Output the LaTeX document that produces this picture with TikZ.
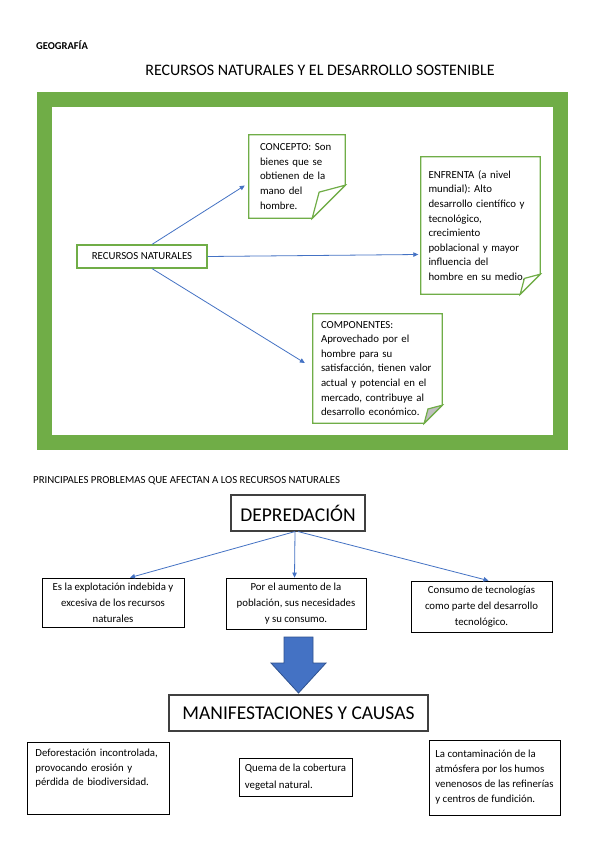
\documentclass[tikz,border=0pt]{standalone}
\usepackage{fontspec}
\setmainfont{Carlito}
\usepackage{tikz}
\usetikzlibrary{arrows.meta}
\frenchspacing
\hyphenpenalty=10000

\definecolor{verde}{HTML}{70AD47}
\definecolor{azul}{HTML}{4472C4}
\definecolor{azuloscuro}{HTML}{2F528F}

% contorno de nota con esquina doblada: [relleno]{nodo}{tamano}
\newcommand{\doblez}[3][white]{%
  \draw[bordenota] (#2.north west) -- (#2.north east) -- ([yshift=#3]#2.south east)
    -- ([xshift=-#3]#2.south east) -- (#2.south west) -- cycle;
  \draw[bordenota, fill=#1] ([xshift=-#3]#2.south east)
    -- ([xshift=-0.79*#3, yshift=0.79*#3]#2.south east) -- ([yshift=#3]#2.south east) -- cycle;}

\begin{document}
\begin{tikzpicture}[
x=1pt, y=-1pt,
nota/.style={inner ysep=0pt, align=left, font=\fontsize{10.8}{14.6}\selectfont},
bordenota/.style={draw=verde, line width=1.2pt, line join=miter},
caja/.style={draw=black, line width=0.8pt, inner sep=0pt, align=center, font=\fontsize{10.8}{16.2}\selectfont},
cajatexto/.style={draw=black, line width=0.8pt, inner ysep=0pt, align=left},
titulo/.style={draw=black!75, line width=1.1pt, inner sep=0pt, font=\fontsize{19.5}{22}\selectfont},
flecha/.style={-{Triangle[length=5pt,width=4.5pt]}, azul, line width=0.8pt}
]
\fill[white] (0,0) rectangle (599,848);
\useasboundingbox (0,0) rectangle (599,848);

% encabezado
\node[anchor=west, inner sep=0pt, font=\bfseries\fontsize{10.5}{12}\selectfont] (geo) at (36,45) {GEOGRAFÍA};
\node[inner sep=0pt, font=\fontsize{16}{19}\selectfont] (titulo) at (320,70) {RECURSOS NATURALES Y EL DESARROLLO SOSTENIBLE};

% marco verde
\draw[verde, line width=15pt] (44.5,99.5) rectangle (560.5,442.5);

\node[draw=verde, line width=1.2pt, minimum width=130pt, minimum height=23pt, inner sep=0pt,
  font=\fontsize{10.8}{13}\selectfont] (recursos) at (142,256.5) {RECURSOS NATURALES};
\node[nota, text width=74pt, inner xsep=11pt, minimum width=96pt, minimum height=83pt] (concepto) at (297,176.5)
  {CONCEPTO: Son\\bienes que se\\obtienen de la\\mano del\\hombre.};
\node[nota, text width=104pt, inner xsep=7.5pt, minimum width=119pt, minimum height=137pt] (enfrenta) at (480.5,225.5)
  {ENFRENTA (a nivel\\mundial): Alto\\desarrollo científico y\\tecnológico,\\crecimiento\\poblacional y mayor\\influencia del\\hombre en su medio.};
\node[nota, text width=113pt, inner xsep=8pt, minimum width=129pt, minimum height=109pt] (componentes) at (377.5,368.5)
  {COMPONENTES:\\Aprovechado por el\\hombre para su\\satisfacción, tienen valor\\actual y potencial en el\\mercado, contribuye al\\desarrollo económico.};
\doblez{concepto}{33pt}
\doblez{enfrenta}{20pt}
\doblez[black!25]{componentes}{18pt}

\draw[flecha] ([xshift=10pt]recursos.north) -- ([xshift=-4pt,yshift=-9pt]concepto.west);
\draw[flecha] (recursos.east) -- ([xshift=-2.5pt,yshift=-29pt]enfrenta.west);
\draw[flecha] ([xshift=10pt]recursos.south) -- ([xshift=-8pt,yshift=5.5pt]componentes.west);

% problemas
\node[anchor=west, inner sep=0pt, font=\fontsize{10.8}{13}\selectfont] (problemas) at (33,481)
  {PRINCIPALES PROBLEMAS QUE AFECTAN A LOS RECURSOS NATURALES};
\node[titulo, minimum width=134pt, minimum height=36pt] (depredacion) at (298,513) {DEPREDACIÓN};
\node[caja, minimum width=142pt, minimum height=49pt] (explotacion) at (113,602.5)
  {Es la explotación indebida y\\excesiva de los recursos\\naturales};
\node[caja, minimum width=140pt, minimum height=51pt] (poblacion) at (296,603.5)
  {Por el aumento de la\\población, sus necesidades\\y su consumo.};
\node[caja, minimum width=141pt, minimum height=51pt] (tecnologia) at (481.5,606.5)
  {Consumo de tecnologías\\como parte del desarrollo\\tecnológico.};

\draw[flecha] ([xshift=-3pt]depredacion.south) -- ([xshift=17pt]explotacion.north);
\draw[flecha] ([xshift=-3pt]depredacion.south) -- ([xshift=-1.5pt]poblacion.north);
\draw[flecha] (depredacion.south) -- ([xshift=7pt]tecnologia.north);

% flecha grande
\draw[fill=azul, draw=azuloscuro, line width=0.8pt] (284,637) -- (313,637) -- (313,663) -- (326,663)
  -- (298.5,693) -- (271,663) -- (284,663) -- cycle;

\node[titulo, minimum width=259pt, minimum height=36pt] (manifestaciones) at (298.5,713) {MANIFESTACIONES Y CAUSAS};
\node[cajatexto, anchor=north west, text width=126pt, inner xsep=8pt, text height=14pt, text depth=58pt,
  font=\fontsize{10.8}{14.7}\selectfont] (deforestacion) at (27,742)
  {Deforestación incontrolada,\\provocando erosión y\\pérdida de biodiversidad.};
\node[cajatexto, minimum width=113pt, minimum height=38pt,
  font=\fontsize{10.8}{17}\selectfont] (quema) at (295.5,777) {Quema de la cobertura\\vegetal natural.};
\node[cajatexto, minimum width=131pt, minimum height=75pt,
  font=\fontsize{10.8}{15}\selectfont] (contaminacion) at (494.5,777.5)
  {La contaminación de la\\atmósfera por los humos\\venenosos de las refinerías\\y centros de fundición.};
\end{tikzpicture}
\end{document}
